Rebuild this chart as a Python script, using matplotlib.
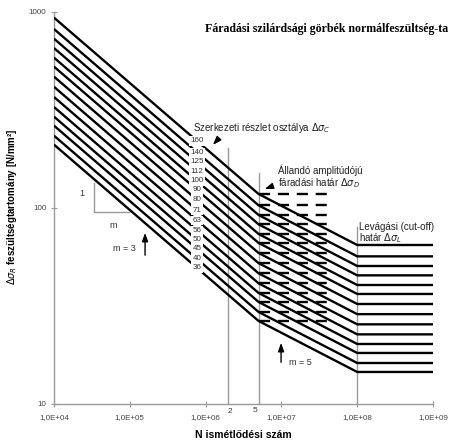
import numpy as np
import matplotlib
matplotlib.use("Agg")
import matplotlib.pyplot as plt

plt.rcParams["font.family"] = ["Liberation Sans", "DejaVu Sans"]
plt.rcParams["lines.scale_dashes"] = False

# Detail categories (reference stress range at 2 million cycles, N/mm^2)
categories = [160, 140, 125, 112, 100, 90, 80, 71, 63, 56, 50, 45, 40, 36]

# Characteristic cycle counts
N_start = 1e4       # left end of the curves
N_C = 2e6           # reference point of the category
N_D = 5e6           # constant amplitude fatigue limit
N_L = 1e8           # cut-off limit
N_end = 1e9         # right end of the curves
N_dash_end = 4.1e7  # extent of the dashed fatigue-limit marks
slope_1 = 3
slope_2 = 5

x_ticks = [1e4, 1e5, 1e6, 1e7, 1e8, 1e9]
x_ticklabels = ["1,0E+04", "1,0E+05", "1,0E+06", "1,0E+07", "1,0E+08", "1,0E+09"]
y_ticks = [10, 100, 1000]
y_ticklabels = ["10", "100", "1000"]

label_N = 7.7e5     # where the category numbers sit on the curves

title_text = "Fáradási szilárdsági görbék normálfeszültség-ta"


def stress_range(dsc, n):
    n = np.asarray(n, dtype=float)
    dsd = dsc * (N_C / N_D) ** (1 / slope_1)
    dsl = dsd * (N_D / N_L) ** (1 / slope_2)
    s1 = dsc * (N_C / n) ** (1 / slope_1)
    s2 = dsd * (N_D / n) ** (1 / slope_2)
    return np.where(n <= N_D, s1, np.where(n <= N_L, s2, dsl))


fig = plt.figure(figsize=(4.49, 4.41), dpi=100)
ax = fig.add_axes([54 / 449, 1 - 404 / 441, 379 / 449, 392 / 441])
ax.set_xscale("log")
ax.set_yscale("log")
ax.set_xlim(1e4, 1e9)
ax.set_ylim(10, 1000)

grey = "#9a9a9a"

# Vertical guide lines at 2e6, 5e6 and 1e8 cycles
guide_N = [N_C, N_D, N_L]
guide_top = [202, 151, 80]
for n, top in zip(guide_N, guide_top):
    ax.plot([n, n], [10, top], color=grey, lw=1.0, zorder=1)

# S-N curves
n_pts = np.array([N_start, N_D, N_L, N_end])
for dsc in categories:
    ax.plot(n_pts, stress_range(dsc, n_pts), color="black", lw=1.7,
            solid_capstyle="butt", zorder=3)
    # dashed constant-amplitude fatigue limit
    dsd = float(stress_range(dsc, N_D))
    ax.plot([N_D, N_dash_end], [dsd, dsd], color="black", lw=1.7,
            linestyle=(0, (8.0, 5.6)), solid_capstyle="butt",
            dash_capstyle="butt", zorder=2)
    # category number on the curve
    ax.text(label_N, float(stress_range(dsc, label_N)), str(dsc),
            fontsize=5.8, color="#333333", ha="center", va="center",
            zorder=5,
            bbox=dict(boxstyle="square,pad=0.15", fc="white", ec="none"))

# Slope triangle for m
tri_n0, tri_n1 = 3.4e4, 9.7e4
tri_low, tri_high = 95.4, 134
ax.plot([tri_n0, tri_n0, tri_n1], [tri_high, tri_low, tri_low],
        color=grey, lw=1.0, zorder=1)
ax.text(2.34e4, 119, "1", fontsize=6.5, color="#333333",
        ha="center", va="center")
ax.text(6.0e4, 81, "m", fontsize=6.5, color="#333333",
        ha="center", va="center")

arrow_style = dict(arrowstyle="-|>,head_length=0.5,head_width=0.18",
                   color="black", lw=1.0)

# m = 3 and m = 5 markers
ax.text(8.4e4, 62.5, "m = 3", fontsize=6.5, color="#333333",
        ha="center", va="center")
ax.annotate("", xy=(1.59e5, 77.2), xytext=(1.59e5, 55.6),
            arrowprops=arrow_style)
ax.text(1.76e7, 16.2, "m = 5", fontsize=6.5, color="#333333",
        ha="center", va="center")
ax.annotate("", xy=(9.9e6, 21.2), xytext=(9.9e6, 15.8),
            arrowprops=arrow_style)

# Descriptive labels
ax.text(6.8e5, 256, r"Szerkezeti részlet osztálya $\Delta\sigma_C$",
        fontsize=7, color="#222222", ha="left", va="center")
ax.annotate("", xy=(1.18e6, 205), xytext=(1.55e6, 230),
            arrowprops=arrow_style)
ax.text(9.0e6, 156, "Állandó amplitúdójú", fontsize=7, color="#222222",
        ha="left", va="center")
ax.text(9.0e6, 134, r"fáradási határ $\Delta\sigma_D$", fontsize=7,
        color="#222222", ha="left", va="center")
ax.annotate("", xy=(5.55e6, 123.6), xytext=(7.74e6, 129.5),
            arrowprops=arrow_style)
ax.text(1.06e8, 80, "Levágási (cut-off)", fontsize=7, color="#222222",
        ha="left", va="center")
ax.text(1.06e8, 70.3, r"határ $\Delta\sigma_L$", fontsize=7,
        color="#222222", ha="left", va="center")

# Cycle markers under the axis
ax.text(2.1e6, 9.2, "2", fontsize=6, color="#333333", ha="center",
        va="center", clip_on=False)
ax.text(4.55e6, 9.3, "5", fontsize=6, color="#333333", ha="center",
        va="center", clip_on=False)

# Axes styling
for side in ("top", "right"):
    ax.spines[side].set_visible(False)
for side in ("left", "bottom"):
    ax.spines[side].set_color(grey)
    ax.spines[side].set_linewidth(1.0)
ax.set_xticks(x_ticks)
ax.set_xticklabels(x_ticklabels)
ax.set_yticks(y_ticks)
ax.set_yticklabels(y_ticklabels)
ax.xaxis.set_minor_locator(matplotlib.ticker.NullLocator())
ax.yaxis.set_minor_locator(matplotlib.ticker.NullLocator())
ax.tick_params(axis="both", direction="inout", length=5, width=0.8,
               color=grey, labelsize=5.8, labelcolor="#444444")
ax.tick_params(axis="x", pad=5)
ax.tick_params(axis="y", pad=3)

ax.set_xlabel("N ismétlődési szám", fontsize=7.5, fontweight="bold",
              labelpad=6)
fig.text(12 / 449, 1 - 207 / 441,
         r"$\Delta\sigma_R$ feszültségtartomány [N/mm²]",
         rotation=90, fontsize=7, fontweight="bold", ha="center", va="center")

# Title, sized to fill the space to the right edge
title = fig.text(205 / 449, 1 - 29 / 441, title_text,
                 family=["Liberation Serif", "DejaVu Serif"],
                 fontweight="bold", fontsize=8.5, ha="left", va="center")
renderer = fig.canvas.get_renderer()
avail = 449 - 205 - 2
width = title.get_window_extent(renderer).width
title.set_fontsize(8.5 * min(1.2, avail / width))

fig.savefig("out.png", dpi=100)
